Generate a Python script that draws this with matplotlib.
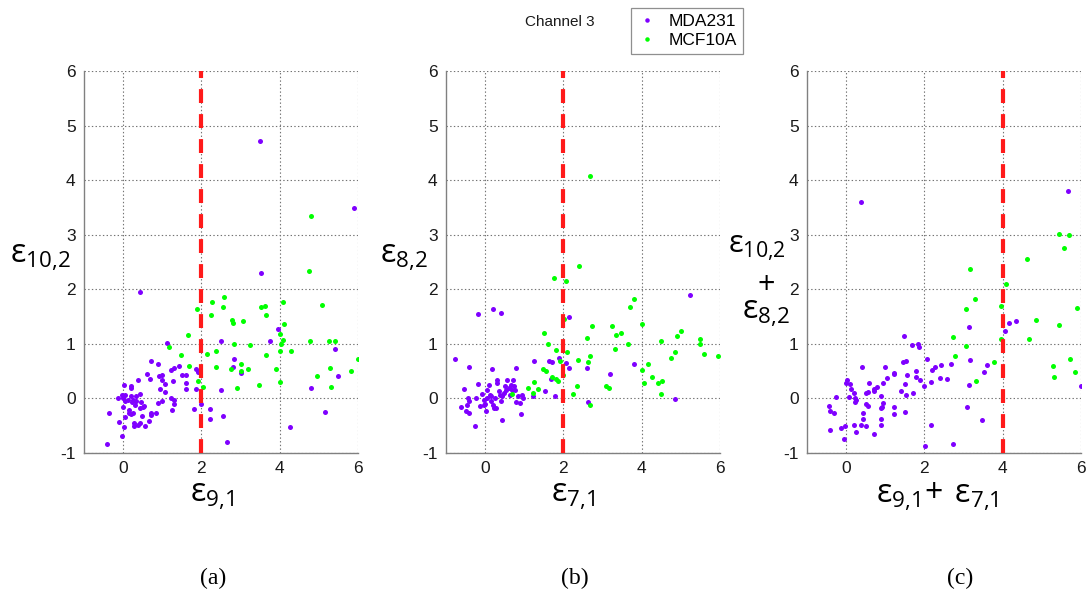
import numpy as np
import matplotlib
matplotlib.use('Agg')
import matplotlib.pyplot as plt

plt.rcParams['font.family'] = ['Liberation Sans', 'DejaVu Sans']
plt.rcParams['mathtext.fontset'] = 'custom'
plt.rcParams['mathtext.rm'] = 'Open Sans'
plt.rcParams['lines.scale_dashes'] = False
plt.rcParams['axes.unicode_minus'] = False

# (a) eps_9,1 vs eps_10,2
xa_mda = [0.43, 1.12, 2.51, 3.95, 3.74, 5.40, 5.48, 4.79, 5.16, 4.25, 2.66, 2.55, 2.23, 2.23, 1.80,
          1.99, 2.49, 2.83, 2.80, 3.00, 1.86, 1.92, 1.86, 1.60, 1.60, 1.50, 1.60, 1.43, 1.29, 1.22,
          1.28, 1.08, 1.00, 0.94, 1.06, 1.00, 0.92, 0.89, 0.71, 0.60, 0.69, 0.37, 1.22, 1.29, 1.29,
          1.25, 1.00, 0.89, 0.83, 0.72, 0.72, 0.66, 0.57, 0.49, 0.51, 0.53, 0.43, 0.46, 0.43, 0.34,
          0.34, 0.30, 0.43, 0.29, 0.37, 0.27, 0.20, 0.15, 0.26, 0.05, 0.02, -0.03, -0.11, -0.37,
          -0.42, -0.13, 0.00, -0.03, 0.02, 0.06, 0.00, 0.05, 0.12, 0.19, 0.20, 0.20, 0.23, 0.26, 0.14,
          3.49, 5.89, 3.51]
ya_mda = [1.95, 1.02, 1.05, 1.28, 1.05, 0.91, 0.41, 0.20, -0.24, -0.52, -0.80, -0.32, -0.38, -0.20, -0.20,
          -0.10, 0.16, 0.73, 0.57, 0.47, 0.54, 0.49, 0.18, 0.29, 0.18, 0.43, 0.43, 0.60, 0.55, 0.52,
          0.32, 0.27, 0.33, 0.18, 0.12, 0.43, 0.42, 0.63, 0.68, 0.44, 0.35, 0.34, 0.00, -0.03, -0.10,
          -0.21, -0.04, -0.09, -0.27, -0.27, -0.30, -0.42, -0.50, -0.32, -0.15, -0.13, -0.18, -0.07, 0.08, 0.04,
          -0.05, -0.12, -0.45, -0.45, -0.49, -0.51, -0.29, -0.26, -0.26, -0.34, -0.52, -0.68, -0.43, -0.26,
          -0.84, 0.00, 0.00, 0.06, 0.24, 0.06, -0.16, -0.05, -0.02, 0.05, 0.22, 0.19, -0.06, -0.02, -0.21,
          4.72, 3.49, 2.30]
xa_mcf = [1.89, 1.65, 1.16, 1.47, 1.68, 1.91, 2.05, 2.13, 2.27, 2.25, 2.57, 2.54, 2.37, 2.38, 2.77,
          2.81, 2.84, 2.75, 2.92, 3.07, 3.01, 3.01, 3.18, 3.25, 3.47, 3.51, 3.63, 3.65, 3.66, 3.91,
          4.00, 4.00, 4.02, 4.04, 4.08, 4.09, 4.11, 4.29, 4.78, 4.94, 5.09, 5.26, 5.29, 5.32, 5.42,
          5.83, 6.00, 4.81, 4.74]
ya_mcf = [1.64, 1.16, 0.94, 0.80, 0.60, 0.32, 0.21, 0.82, 1.76, 1.52, 1.85, 1.68, 0.86, 0.57, 1.44,
          1.39, 0.99, 0.54, 0.20, 1.41, 0.63, 0.51, 0.54, 0.97, 0.24, 1.68, 1.70, 1.53, 0.80, 0.54,
          0.87, 0.30, 1.18, 0.99, 1.76, 1.07, 1.36, 0.86, 1.05, 0.41, 1.71, 1.06, 0.56, 0.21, 1.06,
          0.50, 0.73, 3.35, 2.33]

# (b) eps_7,1 vs eps_8,2
xb_mda = [5.23, 0.19, -0.18, 0.40, 2.15, -0.76, -0.40, 0.17, 0.79, 1.24, 1.64, 1.71, 1.89, 2.06, 2.13,
          1.68, 1.52, 1.22, 1.78, 2.60, 2.63, 3.20, 3.81, 4.86, 0.91, 0.44, -0.25, 0.01, -0.62, -0.47,
          -0.48, -0.41, -0.55, -0.45, -0.41, -0.23, -0.19, -0.14, -0.07, -0.03, -0.01, 0.06, 0.10, 0.13,
          0.14, 0.19, 0.23, 0.26, 0.30, 0.31, 0.36, 0.38, 0.40, 0.44, 0.48, 0.50, 0.54, 0.57, 0.61,
          0.64, 0.67, 0.69, 0.72, 0.74, 0.75, 0.78, 0.84, 0.89, 0.94, 0.97, 0.27, 0.16, 0.04, -0.04]
yb_mda = [1.89, 1.63, 1.55, 1.56, 1.50, 0.73, 0.57, 0.54, 0.55, 0.68, 0.68, 0.66, 0.74, 0.65, 0.55,
          0.35, 0.13, 0.04, 0.04, 0.55, -0.07, 0.45, 0.63, -0.01, -0.29, -0.40, -0.50, -0.23, -0.16, -0.12,
          -0.23, -0.27, 0.18, 0.00, -0.05, 0.00, 0.27, -0.13, 0.08, -0.02, -0.10, 0.16, 0.25, 0.07,
          -0.05, -0.12, -0.18, 0.01, 0.28, 0.34, 0.13, 0.07, -0.05, 0.04, 0.10, 0.22, 0.16, 0.34, 0.19,
          0.07, 0.25, 0.15, 0.34, 0.22, 0.16, -0.07, 0.05, -0.09, 0.07, 0.00, -0.18, 0.04, 0.00, -0.12]
xb_mcf = [2.68, 2.39, 1.76, 2.07, 3.81, 3.69, 2.01, 1.50, 1.61, 1.81, 2.08, 1.90, 2.00, 1.71, 1.81,
          1.86, 1.47, 1.56, 1.26, 1.09, 1.36, 1.22, 0.69, 2.36, 2.34, 2.25, 2.59, 2.73, 2.67, 2.63,
          2.67, 3.23, 3.34, 3.48, 3.31, 3.64, 3.10, 3.16, 4.00, 4.00, 4.07, 4.15, 4.25, 4.42, 4.53,
          4.50, 4.50, 4.75, 4.86, 4.91, 5.00, 5.49, 5.48, 5.58, 5.95]
yb_mcf = [4.07, 2.42, 2.20, 2.15, 1.82, 1.68, 1.45, 1.20, 0.99, 0.88, 0.85, 0.69, 0.43, 0.40, 0.35,
          0.32, 0.54, 0.51, 0.30, 0.19, 0.18, 0.10, 0.08, 0.70, 0.23, 0.08, 1.11, 1.32, 0.78, 0.67,
          -0.12, 1.32, 1.16, 1.19, 0.90, 0.99, 0.22, 0.19, 1.37, 0.53, 0.28, 0.63, 0.39, 0.28, 0.32,
          1.05, 0.08, 0.75, 0.85, 1.14, 1.24, 1.09, 0.99, 0.81, 0.78]

# (c) eps_9,1 + eps_7,1 vs eps_10,2 + eps_8,2
xc_mda = [0.37, 5.68, 1.49, 1.69, 1.84, 1.87, 1.44, 1.53, 1.78, 1.79, 1.88, 1.56, 1.51, 1.39, 1.53,
          1.71, 1.51, 2.00, 2.07, 2.16, 2.19, 2.28, 2.42, 2.39, 2.58, 2.67, 3.13, 3.17, 3.13, 3.09,
          3.48, 3.52, 3.61, 2.73, 2.02, 2.18, 4.16, 4.33, 4.07, 6.00, 1.23, 1.22, 1.22, 1.23, 1.05,
          0.99, 0.88, 0.94, 0.92, 0.88, 0.89, 0.90, 0.94, 0.80, 0.70, 0.72, 0.71, 0.58, 0.51, 0.56,
          0.51, 0.56, 0.51, 0.40, 0.43, 0.43, 0.38, 0.20, 0.26, 0.23, 0.25, 0.22, 0.20, 0.11, 0.13,
          0.08, 0.01, -0.01, -0.04, -0.06, -0.13, -0.25, -0.31, -0.40, -0.44, -0.40]
yc_mda = [3.60, 3.80, 1.14, 0.98, 0.99, 0.94, 0.66, 0.68, 0.51, 0.39, 0.34, 0.43, 0.27, 0.14, 0.07,
          0.10, -0.24, 0.23, 0.72, 0.31, 0.52, 0.58, 0.62, 0.38, 0.36, 0.63, 1.31, 0.71, 0.24, -0.15,
          -0.40, 0.48, 0.62, -0.84, -0.88, -0.49, 1.39, 1.41, 1.24, 0.23, -0.15, -0.28, 0.45, 0.46, 0.38,
          0.57, 0.05, -0.09, -0.15, -0.17, -0.37, -0.48, 0.28, 0.21, 0.17, 0.13, -0.66, 0.28, 0.10, 0.12,
          -0.10, -0.13, -0.51, 0.57, -0.26, -0.37, -0.49, -0.49, -0.62, 0.00, -0.02, -0.06, 0.10, 0.26, 0.17,
          0.03, 0.34, 0.29, -0.51, -0.74, -0.55, 0.02, -0.27, -0.23, -0.13, -0.57]
xc_mcf = [5.44, 5.69, 5.56, 4.63, 3.17, 4.09, 3.29, 3.05, 3.95, 5.89, 4.84, 5.44, 2.72, 3.06, 3.96,
          4.67, 2.77, 3.77, 3.31, 5.73, 5.28, 5.30, 5.84]
yc_mcf = [3.02, 3.00, 2.76, 2.55, 2.37, 2.09, 1.83, 1.63, 1.70, 1.66, 1.43, 1.34, 1.12, 0.96, 1.09,
          1.09, 0.78, 0.66, 0.32, 0.73, 0.60, 0.40, 0.49]

thresholds = [2, 2, 4]
series_names = ['MDA231', 'MCF10A']
mda_color = '#7f00ff'
mcf_color = '#00ff00'

panels = [
    (xa_mda, ya_mda, xa_mcf, ya_mcf),
    (xb_mda, yb_mda, xb_mcf, yb_mcf),
    (xc_mda, yc_mda, xc_mcf, yc_mcf),
]
lefts = [84, 446, 807]

W, H = 1089, 596
fig = plt.figure(figsize=(W / 100, H / 100), dpi=100)

axes = []
for (xm, ym, xg, yg), thr, left in zip(panels, thresholds, lefts):
    ax = fig.add_axes([left / W, (H - 453) / H, 274 / W, 382 / H])
    ax.plot(xm, ym, 'o', color=mda_color, ms=3.6, mew=0, label=series_names[0], zorder=3)
    ax.plot(xg, yg, 'o', color=mcf_color, ms=3.6, mew=0, label=series_names[1], zorder=3)
    ax.plot([thr, thr], [-1, 6], color='#ff1a1a', lw=3.0, dashes=(10, 8), zorder=4)
    ax.set_xlim(-1, 6)
    ax.set_ylim(-1, 6)
    ax.set_xticks([0, 2, 4, 6])
    ax.set_yticks(range(-1, 7))
    ax.grid(True, ls=':', color='0.45', lw=0.8)
    ax.set_axisbelow(True)
    for s in ['top', 'right']:
        ax.spines[s].set_visible(False)
    for s in ['left', 'bottom']:
        ax.spines[s].set_color('0.5')
        ax.spines[s].set_linewidth(1.0)
    ax.tick_params(length=0, labelsize=12.5, colors='0.1', pad=6)
    axes.append(ax)

# axis labels
lab = dict(fontsize=23, color='black', ha='center', va='center')
fig.text(40 / W, 1 - 258 / H, r'$\mathrm{ε_{10{,}2}}$', **lab)
fig.text(404 / W, 1 - 258 / H, r'$\mathrm{ε_{8{,}2}}$', **lab)
fig.text(757 / W, 1 - 248 / H, r'$\mathrm{ε_{10{,}2}}$', fontsize=22, color='black',
         ha='center', va='center')
fig.text(766 / W, 1 - 286 / H, '+', fontsize=22, ha='center', va='center', family='Open Sans')
fig.text(766 / W, 1 - 314 / H, r'$\mathrm{ε_{8{,}2}}$', **lab)

fig.text(212 / W, 1 - 497 / H, r'$\mathrm{ε_{9{,}1}}$', **lab)
fig.text(573 / W, 1 - 497 / H, r'$\mathrm{ε_{7{,}1}}$', **lab)
fig.text(937 / W, 1 - 497 / H, r'$\mathrm{ε_{9{,}1}\!+\,ε_{7{,}1}}$', **lab)

# panel tags
for x, t in zip([213, 575, 960], ['(a)', '(b)', '(c)']):
    fig.text(x / W, 1 - 578 / H, t, fontsize=17, family='Liberation Serif',
             ha='center', va='center')

fig.text(560 / W, 1 - 22 / H, 'Channel 3', fontsize=11, ha='center', va='center', color='0.1')

handles = axes[0].get_lines()[:2]
leg = fig.legend(handles, series_names, loc='upper left',
                 bbox_to_anchor=(631 / W, 1 - 8 / H), borderaxespad=0,
                 fontsize=12.5, frameon=True,
                 fancybox=False, edgecolor='0.45', handlelength=1.2, handletextpad=0.6,
                 borderpad=0.35, labelspacing=0.2, markerscale=0.9)
leg.get_frame().set_linewidth(0.9)

fig.savefig('out.png', dpi=100)
